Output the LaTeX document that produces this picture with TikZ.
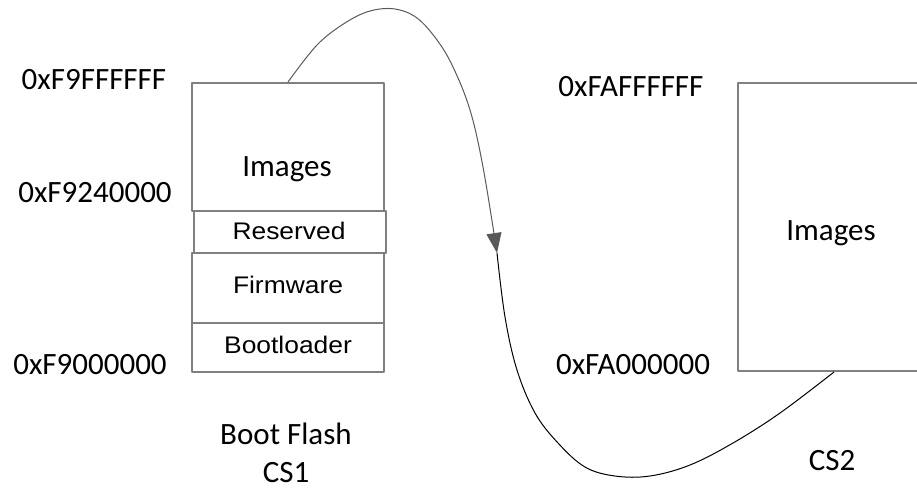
\documentclass[tikz,border=0pt]{standalone}
\usepackage{fontspec}
\setmainfont{Carlito}
\newfontfamily\arialfont{Liberation Sans}[FakeStretch=1.1]
\usetikzlibrary{arrows.meta}
\definecolor{boxgray}{rgb}{0.5,0.5,0.5}
\definecolor{linegray}{rgb}{0.35,0.35,0.35}

\begin{document}
\begin{tikzpicture}[line cap=round,line join=round,x=1pt,y=-1pt,
  region/.style={draw=boxgray,line width=2pt,inner sep=0pt,anchor=north west},
  addr/.style={font=\fontsize{31}{38}\selectfont,anchor=base,inner sep=0pt,align=center},
  part/.style={font=\arialfont\fontsize{24}{28}\selectfont,anchor=base,inner sep=0pt}]
\useasboundingbox (0,0) rectangle (917,490);
\clip (0,0) rectangle (917,490);
% boot flash, CS1
\node[region,minimum width=192pt,minimum height=128pt] (img1) at (191,82) {};
\node[region,minimum width=192pt,minimum height=42pt] (rsv) at (193,210) {};
\node[region,minimum width=192pt,minimum height=70pt] (fw) at (191,252) {};
\node[region,minimum width=192pt,minimum height=49pt] (boot) at (191,322) {};
\node[addr] (img1txt) at (287,176) {Images};
\node[part] (rsvtxt) at (289,239) {Reserved};
\node[part] (fwtxt) at (288,293) {Firmware};
\node[part] (boottxt) at (288,353) {Bootloader};
\node[addr] (top1) at (94,89) {0xF9FFFFFF};
\node[addr] (mid1) at (95,202) {0xF9240000};
\node[addr] (low1) at (90,374) {0xF9000000};
\node[addr] (cs1) at (286,482) {Boot Flash\\CS1};
% second flash, CS2
\node[region,minimum width=192pt,minimum height=288pt] (img2) at (737,82) {};
\node[addr] (img2txt) at (831,240) {Images};
\node[addr] (top2) at (631,96) {0xFAFFFFFF};
\node[addr] (low2) at (633,374) {0xFA000000};
\node[addr] (cs2) at (832,470) {CS2};
% the jump
\coordinate (arr) at (497,253);
\draw[linegray,line width=1pt,-{Triangle[length=20pt,width=15pt]}] plot[smooth,tension=0.6] coordinates {(img1.north) (317,45) (345,23) (370,11) (395,9) (417,18) (437,40) (453,67) (470,110) (483,167) (arr)};
\draw[black,line width=1pt] plot[smooth,tension=0.6] coordinates {(arr) (505,317) (517,370) (535,413) (558,443) (585,467) (615,476) (650,476) (690,465) (733,443) (780,413) (img2.south)};
\end{tikzpicture}
\end{document}
